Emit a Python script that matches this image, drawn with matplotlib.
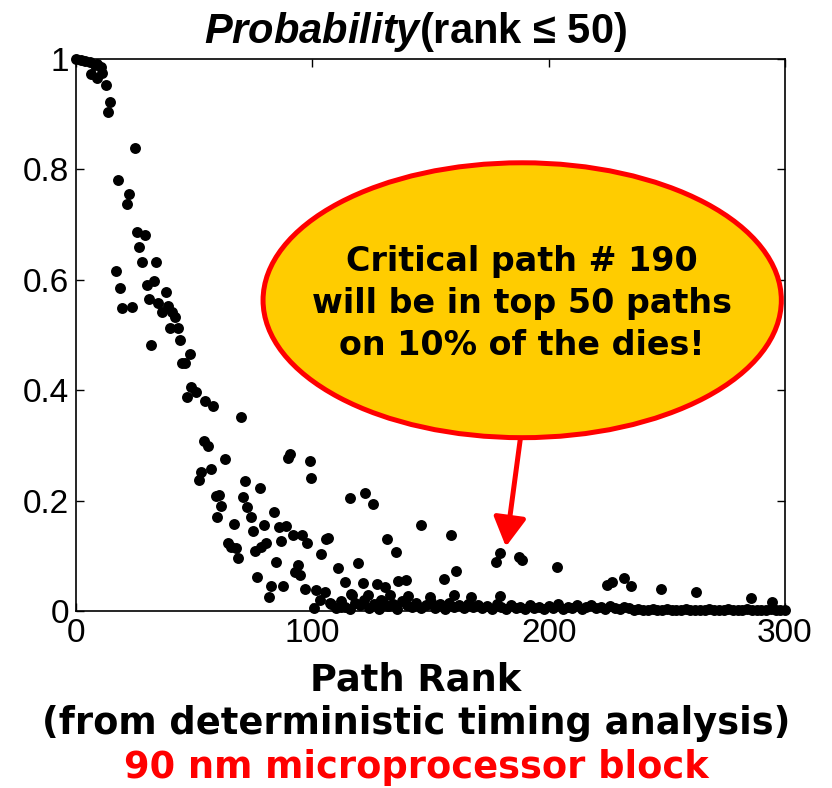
import numpy as np
import matplotlib.pyplot as plt
from matplotlib.patches import Ellipse

# scattered paths (rank from deterministic analysis, probability of being in top 50)
ranks = [0, 2, 4, 6, 8, 9, 10.6, 11, 6.3, 9, 12.7, 14.4, 13.5, 25, 17.8, 22.4, 21.6,
         25.8, 29, 26.7, 27.9, 33.9, 16.9, 30, 33, 18.6, 38, 30.9, 34.7, 38.9, 19.5,
         23.7, 36.4, 40.6, 41.9, 39.8, 43.2, 44, 31.7, 48.2, 44.9, 46, 48.7, 50.8, 47,
         54.6, 58, 69.8, 54.2, 55.9, 63, 90.6, 89.7, 99, 99.5, 53, 57, 52, 71.5, 77.9,
         59.2, 60.5, 70.7, 61.4, 72.4, 59.7, 74, 83.8, 66.9, 79.6, 74.9, 85.9, 88.9,
         91.8, 95.6, 97.8, 105.8, 86.8, 64.3, 65.6, 67.7, 68.6, 80.4, 78.3, 75.7,
         103.7, 84.6, 94, 92.7, 94.8, 76.6, 82.5, 87.6, 81.7, 96.9, 101.6, 105.4,
         103.3, 100.7, 107.5,
         110.9, 113.8, 116, 122.3, 125.7, 106.6, 146, 131.6, 135.5, 158.7, 119.3,
         121.5, 127.4, 130.7, 136.3, 139.7, 160.8, 155.7, 116.8, 123.6, 129, 179.4,
         177.7, 187.5, 188.7, 179.4, 203.6, 224.7, 226.8, 231.9, 234.9, 247.6, 262.4,
         285.6, 294.5, 112, 116.4, 132.9, 140.5, 149.8, 160, 167, 128.6]
probs = [1.0, 0.998, 0.996, 0.994, 0.99, 0.991, 0.985, 0.975, 0.972, 0.965, 0.953,
         0.922, 0.904, 0.839, 0.781, 0.755, 0.737, 0.687, 0.681, 0.659, 0.632, 0.632,
         0.616, 0.59, 0.598, 0.585, 0.578, 0.565, 0.558, 0.553, 0.549, 0.551, 0.542,
         0.542, 0.532, 0.513, 0.513, 0.491, 0.482, 0.465, 0.45, 0.449, 0.406, 0.397,
         0.388, 0.38, 0.371, 0.352, 0.308, 0.299, 0.275, 0.285, 0.277, 0.272, 0.241,
         0.252, 0.257, 0.237, 0.236, 0.223, 0.208, 0.21, 0.207, 0.19, 0.189, 0.17,
         0.17, 0.18, 0.158, 0.156, 0.145, 0.152, 0.154, 0.138, 0.138, 0.123, 0.13,
         0.127, 0.123, 0.116, 0.114, 0.096, 0.123, 0.116, 0.109, 0.103, 0.089, 0.083,
         0.071, 0.065, 0.062, 0.045, 0.045, 0.025, 0.04, 0.038, 0.034, 0.02, 0.005,
         0.014,
         0.078, 0.053, 0.205, 0.214, 0.194, 0.132, 0.156, 0.13, 0.107, 0.138, 0.087,
         0.051, 0.049, 0.044, 0.054, 0.056, 0.072, 0.058, 0.029, 0.029, 0.02, 0.105,
         0.089, 0.098, 0.092, 0.027, 0.08, 0.047, 0.053, 0.06, 0.045, 0.04, 0.034,
         0.024, 0.016, 0.007, 0.031, 0.029, 0.027, 0.025, 0.029, 0.025, 0.016]

# dense band of paths near zero (ranks 108, 110, ..., 300)
band_ranks = np.arange(108, 301, 2)
band_probs = [0.012, 0.006, 0.018, 0.008, 0.004, 0.015, 0.010, 0.020, 0.006, 0.013,
              0.003, 0.016, 0.009, 0.012, 0.004, 0.018, 0.010, 0.007, 0.014, 0.005,
              0.011, 0.017, 0.006, 0.012, 0.003, 0.015, 0.008, 0.010, 0.005, 0.013,
              0.007, 0.011,
              0.006, 0.009, 0.004, 0.012, 0.007, 0.003, 0.010, 0.006, 0.008, 0.004,
              0.011, 0.005, 0.007, 0.003, 0.009, 0.006, 0.012, 0.004, 0.008, 0.005,
              0.010, 0.003, 0.007, 0.011, 0.005, 0.008, 0.004, 0.009, 0.006, 0.003,
              0.007, 0.005,
              0.002, 0.003, 0.001, 0.002, 0.004, 0.002, 0.001, 0.003, 0.002, 0.001,
              0.002, 0.003, 0.001, 0.002, 0.002, 0.001, 0.003, 0.002, 0.001, 0.002,
              0.004, 0.002, 0.001, 0.002, 0.003, 0.001, 0.002, 0.002, 0.001, 0.003,
              0.002, 0.001, 0.002]

xticks = [0, 100, 200, 300]
yticks = [0, 0.2, 0.4, 0.6, 0.8, 1]
callout = "Critical path # 190\nwill be in top 50 paths\non 10% of the dies!"

plt.rcParams['mathtext.fontset'] = 'custom'
plt.rcParams['mathtext.it'] = 'Liberation Sans:italic:bold'
plt.rcParams['mathtext.rm'] = 'Liberation Sans:bold'

fig = plt.figure(figsize=(8.32, 7.88), dpi=100)
ax = fig.add_axes([76 / 832, 1 - 611 / 788, 709 / 832, 552 / 788])

ax.scatter(ranks, probs, s=62, color='black', zorder=3, clip_on=False, linewidths=0)
ax.scatter(band_ranks, band_probs, s=62, color='black', zorder=3, clip_on=False,
           linewidths=0)

ax.set_xlim(0, 300)
ax.set_ylim(0, 1)
ax.set_xticks(xticks)
ax.set_yticks(yticks)
ax.set_xticklabels([f"{t:g}" for t in xticks])
ax.set_yticklabels([f"{t:g}" for t in yticks])
ax.tick_params(direction='in', length=6, width=1, top=True, right=True,
               labelsize=24, pad=5)
for lab in ax.get_xticklabels() + ax.get_yticklabels():
    lab.set_family('Liberation Sans')
for sp in ax.spines.values():
    sp.set_linewidth(1.2)

# callout bubble and arrow
ell = Ellipse((188.8, 0.563), 219.3, 0.498, facecolor='#FFCC00', edgecolor='#FF0000',
              linewidth=3.6, zorder=5, clip_on=False)
ax.add_patch(ell)
ax.text(188.8, 0.557, callout, ha='center', va='center', fontsize=24,
        fontweight='bold', family='DejaVu Sans', linespacing=1.35, zorder=6)
ax.annotate('', xy=(181.9, 0.1165), xytext=(188.2, 0.318),
            arrowprops=dict(arrowstyle='-|>,head_length=0.8,head_width=0.45',
                            color='#FF0000', lw=3.6, mutation_scale=22,
                            shrinkA=0, shrinkB=0), zorder=4)

fig.text(415 / 832, 1 - 32 / 788, r'$\mathit{Probability}$(rank ≤ 50)',
         ha='center', va='center', fontsize=30, fontweight='bold',
         family='Liberation Sans')
fig.text(416 / 832, 1 - 680 / 788, 'Path Rank', ha='center', va='center',
         fontsize=26.5, fontweight='bold', family='DejaVu Sans')
fig.text(416 / 832, 1 - 723 / 788, '(from deterministic timing analysis)',
         ha='center', va='center', fontsize=26.5, fontweight='bold',
         family='DejaVu Sans')
fig.text(416 / 832, 1 - 767 / 788, '90 nm microprocessor block', ha='center',
         va='center', fontsize=26.5, fontweight='bold', family='DejaVu Sans',
         color='#FF0000')

plt.savefig('out.png', dpi=100)
